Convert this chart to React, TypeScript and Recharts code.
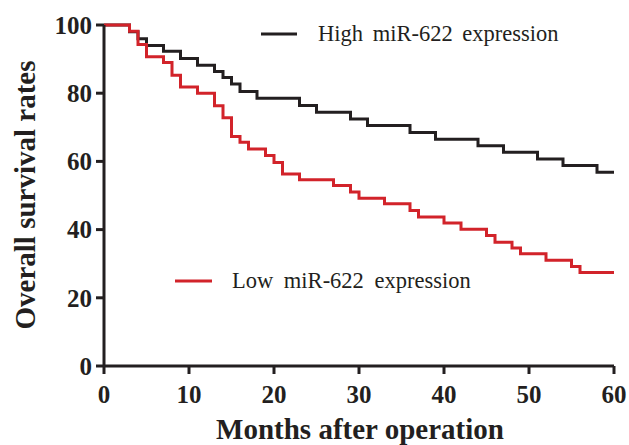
import React from "react";
import { LineChart, Line, XAxis, YAxis } from "recharts";

const highMonths = [0, 3, 4, 5, 7, 9, 11, 13, 14, 15, 16, 18, 23, 25, 29, 31, 36, 39, 44, 47, 51, 54, 58, 60];
const highSurvival = [100, 98, 96, 94, 92.3, 90.2, 88.2, 86.4, 84.6, 82.7, 80.5, 78.5, 76.4, 74.4, 72.4, 70.5, 68.5, 66.5, 64.6, 62.7, 60.7, 58.8, 56.8, 56.8];

const lowMonths = [0, 3, 4, 5, 7, 8, 9, 11, 13, 14, 15, 16, 17, 19, 20, 21, 23, 27, 29, 30, 33, 36, 37, 40, 42, 45, 46, 48, 49, 52, 55, 56, 60];
const lowSurvival = [100, 98.2, 94.3, 90.7, 89, 85.3, 81.8, 80, 76.3, 72.8, 67.3, 65.6, 63.6, 61.7, 59.7, 56.3, 54.6, 52.9, 51, 49.2, 47.6, 45.6, 43.7, 41.9, 40.1, 38.3, 36.3, 34.6, 32.9, 31, 29.2, 27.4, 27.4];

const xTicks = [0, 10, 20, 30, 40, 50, 60];
const yTicks = [0, 20, 40, 60, 80, 100];

const highName = "High miR-622 expression";
const lowName = "Low miR-622 expression";
const xTitle = "Months after operation";
const yTitle = "Overall survival rates";

const highData = highMonths.map((t, i) => ({ t, s: highSurvival[i] }));
const lowData = lowMonths.map((t, i) => ({ t, s: lowSurvival[i] }));

const INK = "#231f20";
const RED = "#d2232a";
const FONT = "'Liberation Serif', 'Times New Roman', serif";

const Overlay = () => (
  <svg width={629} height={445} style={{ position: "absolute", left: 0, top: 0, pointerEvents: "none" }}>
    <line x1={261} y1={34} x2={297} y2={34} stroke={INK} strokeWidth={3} />
    <text x={318} y={41} fontFamily={FONT} fontSize={22.5} fill={INK} wordSpacing={4}>{highName}</text>
    <line x1={175} y1={281} x2={212} y2={281} stroke={RED} strokeWidth={3} />
    <text x={232} y={288} fontFamily={FONT} fontSize={22.5} fill={INK} wordSpacing={5}>{lowName}</text>
    <text x={360} y={439} textAnchor="middle" fontFamily={FONT} fontWeight="bold" fontSize={29} fill={INK}>{xTitle}</text>
    <text x={0} y={0} transform="translate(35,195) rotate(-90)" textAnchor="middle" fontFamily={FONT} fontWeight="bold" fontSize={29} fill={INK}>{yTitle}</text>
  </svg>
);

export default function App() {
  const tickStyle = { fontFamily: FONT, fontWeight: "bold", fontSize: 25, fill: INK };
  return (
    <div style={{ position: "absolute", left: 0, top: 0, width: 629, height: 445, background: "#fff" }}>
      <LineChart width={629} height={445} margin={{ top: 25, right: 15, left: 44, bottom: 0 }}>
        <XAxis
          dataKey="t"
          type="number"
          domain={[0, 60]}
          ticks={xTicks}
          allowDuplicatedCategory={false}
          height={79}
          tickSize={8}
          tickMargin={11}
          axisLine={{ stroke: INK, strokeWidth: 3 }}
          tickLine={{ stroke: INK, strokeWidth: 3 }}
          tick={tickStyle}
          interval={0}
        />
        <YAxis
          dataKey="s"
          type="number"
          domain={[0, 100]}
          ticks={yTicks}
          width={60}
          tickSize={8}
          tickMargin={4}
          axisLine={{ stroke: INK, strokeWidth: 3 }}
          tickLine={{ stroke: INK, strokeWidth: 3 }}
          tick={tickStyle}
          interval={0}
        />
        <Line data={highData} dataKey="s" name={highName} type="stepAfter" stroke={INK} strokeWidth={3} dot={false} isAnimationActive={false} />
        <Line data={lowData} dataKey="s" name={lowName} type="stepAfter" stroke={RED} strokeWidth={3} dot={false} isAnimationActive={false} />
      </LineChart>
      <Overlay />
    </div>
  );
}
